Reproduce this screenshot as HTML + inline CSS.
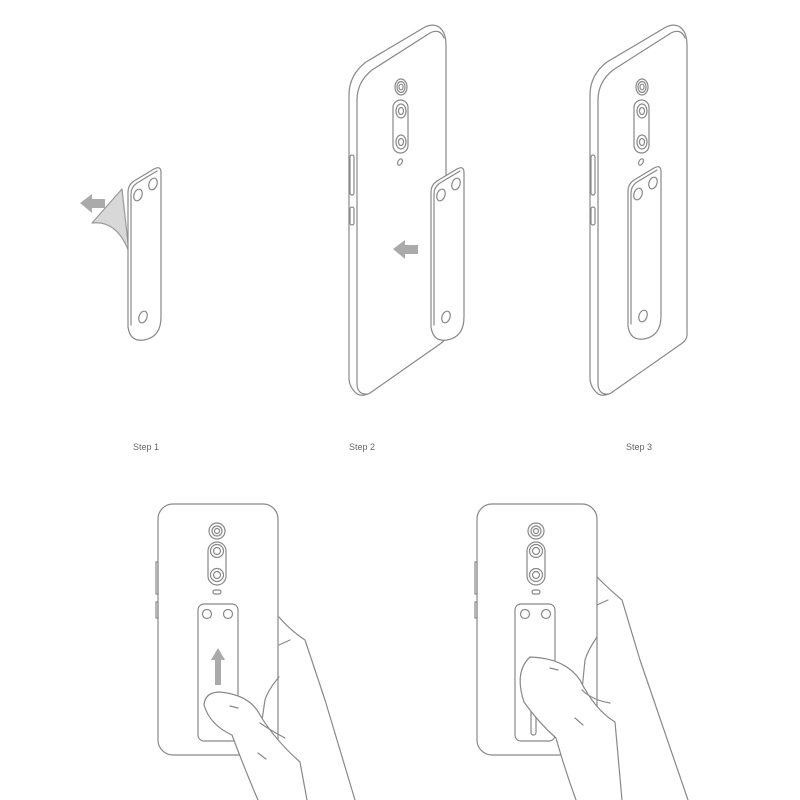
<!DOCTYPE html>
<html><head><meta charset="utf-8"><style>
html,body{margin:0;padding:0;background:#fff;width:800px;height:800px;overflow:hidden}
svg{display:block}
text{font-family:"Liberation Sans",sans-serif;font-size:9px;fill:#666;stroke:none}
</style></head><body>
<svg width="800" height="800" viewBox="0 0 800 800" fill="none" stroke="#888" stroke-width="1.2" stroke-linecap="round" stroke-linejoin="round">
<defs>
<g id="phone3d">
  <path d="M349 95 Q349 75 366 62 L425 27 Q436 22 442 30 Q446 35 446 45 L446 335 Q446 340 440 344 L370 393 Q360 398 355 392 Q349 386 349 378 Z"/>
  <path d="M357 100 Q357 82 372 70 L430 33 Q440 28 444 38"/>
  <path d="M357 100 L357 385 Q358 395 368 394"/>
  <rect x="350" y="155" width="4" height="40" rx="2"/>
  <rect x="350" y="207" width="4" height="18" rx="2"/>
  <ellipse cx="401" cy="87" rx="6" ry="8"/><ellipse cx="401" cy="87" rx="4" ry="5.5"/><ellipse cx="401" cy="87" rx="2" ry="2.8"/>
  <rect x="393" y="100" width="15" height="53" rx="7.5"/>
  <ellipse cx="401" cy="111" rx="5" ry="7"/><ellipse cx="401" cy="111" rx="2.5" ry="3.5"/>
  <ellipse cx="401" cy="142" rx="5" ry="7"/><ellipse cx="401" cy="142" rx="2.5" ry="3.5"/>
  <ellipse cx="400" cy="162" rx="2" ry="3.5" transform="rotate(30 400 162)"/>
</g>
<g id="strip">
  <path d="M0 25 Q0 18 6 14 L26 2 Q33 -2 33 6 L33 150 Q33 170 16 173 Q2 175 0 160 Z" fill="#fff"/>
  <path d="M3 27 Q3 20 9 16 L29 4"/>
  <path d="M3 27 L3 158"/>
  <ellipse cx="10" cy="28" rx="4" ry="6" transform="rotate(20 10 28)"/>
  <ellipse cx="25" cy="17" rx="4" ry="6" transform="rotate(20 25 17)"/>
  <ellipse cx="15" cy="150" rx="4" ry="6" transform="rotate(20 15 150)"/>
</g>
<g id="phoneflat">
  <rect x="0" y="0" width="120" height="251" rx="15"/>
  <rect x="-2" y="58" width="2" height="32" />
  <rect x="-2" y="98" width="2" height="16" />
  <circle cx="59" cy="27" r="8"/><circle cx="59" cy="27" r="5"/><circle cx="59" cy="27" r="2.5"/>
  <rect x="50" y="38" width="18" height="43" rx="9"/>
  <circle cx="59" cy="47" r="6.5"/><circle cx="59" cy="47" r="3.5"/>
  <circle cx="59" cy="71" r="6.5"/><circle cx="59" cy="71" r="3.5"/>
  <rect x="55" y="86" width="8" height="4" rx="2"/>
</g>
</defs>

<path d="M122 189 L92 223 Q117 220 129 252 Z" fill="#d8d8d8" stroke="#999"/>
<path d="M80 203 L92 194 L92 199 L105 199 L105 208 L92 208 L92 213 Z" fill="#aaa" stroke="none"/>
<use href="#strip" transform="translate(128,167)"/>
<text x="133" y="450">Step 1</text>

<use href="#phone3d"/>
<use href="#strip" transform="translate(431,167)"/>
<path d="M393 249 L405 240 L405 245 L418 245 L418 254 L405 254 L405 259 Z" fill="#aaa" stroke="none"/>
<text x="349" y="450">Step 2</text>

<use href="#phone3d" transform="translate(241,0)"/>
<use href="#strip" transform="translate(628,166)"/>
<text x="626" y="450">Step 3</text>

<use href="#phoneflat" transform="translate(158,504)"/>
<rect x="198" y="604" width="40" height="137" rx="6" fill="#fff"/>
<circle cx="207" cy="614" r="4.5"/><circle cx="228" cy="614" r="4.5"/>
<path d="M218 648 L225 660 L221 660 L221 685 L215 685 L215 660 L211 660 Z" fill="#aaa" stroke="none"/>
<path d="M279 617 Q290 630 305 640 L325 700 L355 800"/>
<path d="M279 645 L290 640"/>
<path d="M279 677 Q268 690 265 700 L262 720"/>
<path d="M258 800 Q245 770 232 735 Q210 725 204 705 Q205 692 220 692 Q250 695 260 715 Q275 740 300 762 L307 800 Z" fill="#fff" stroke="none"/>
<path d="M258 800 Q245 770 232 735 Q210 725 204 705 Q205 692 220 692 Q250 695 260 715 Q275 740 300 762 L307 800"/>
<path d="M230 706 L238 708"/><path d="M260 723 Q270 730 285 738"/><path d="M258 753 L266 759"/>

<use href="#phoneflat" transform="translate(477,504)"/>
<rect x="515" y="604" width="40" height="137" rx="6" fill="#fff"/>
<circle cx="525" cy="614" r="4.5"/><circle cx="546" cy="614" r="4.5"/>
<rect x="531" y="697" width="5" height="38" rx="2.5"/>
<path d="M597 577 Q610 590 622 600 L640 660 L688 800"/>
<path d="M597 605 L608 600"/>
<path d="M597 637 Q588 650 585 660 L582 690"/>
<path d="M576 800 Q565 770 556 738 Q538 722 524 702 Q514 672 530 657 Q565 658 580 680 Q595 710 615 722 L622 800 Z" fill="#fff" stroke="none"/>
<path d="M576 800 Q565 770 556 738 Q538 722 524 702 Q514 672 530 657 Q565 658 580 680 Q595 710 615 722 L622 800"/>
<path d="M550 668 L558 670"/><path d="M582 690 Q592 700 610 703"/><path d="M575 718 L583 725"/>
</svg>
</body></html>
